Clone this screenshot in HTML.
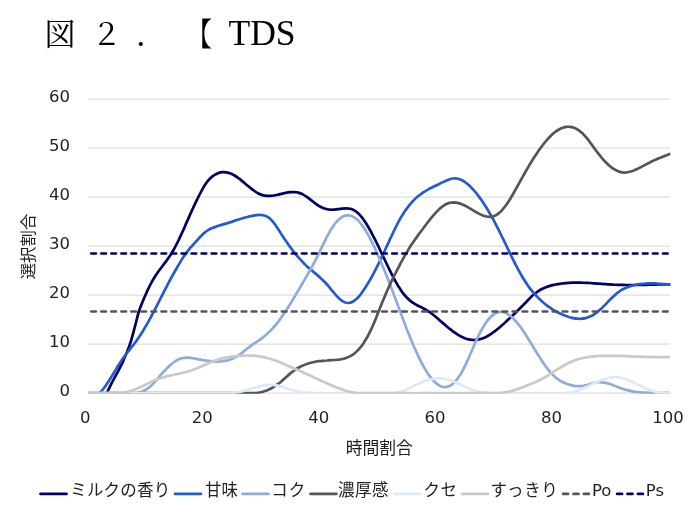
<!DOCTYPE html>
<html lang="ja">
<head>
<meta charset="utf-8">
<title>図2. TDS</title>
<style>
html,body{margin:0;padding:0;background:#fff;}
body{width:700px;height:515px;overflow:hidden;position:relative;}
svg{position:absolute;left:0;top:0;display:block;filter:blur(0.35px);}
.ttl{font-family:"Liberation Serif","Noto Serif CJK SC",serif;fill:#000;}
.cj{font-family:"Liberation Serif","Noto Serif CJK SC",serif;font-weight:400;font-size:31px;}
.lat{font-family:"Liberation Serif",serif;font-size:35.5px;}
.ax{font-family:"DejaVu Sans","Liberation Sans",sans-serif;font-size:16.5px;fill:#1f1f1f;}
.jp{font-family:"Liberation Sans","Noto Sans CJK JP",sans-serif;font-size:16.8px;fill:#1f1f1f;}
.lg{font-family:"DejaVu Sans","Noto Sans CJK JP",sans-serif;font-size:16.5px;fill:#1f1f1f;}
.grid line{stroke:#dedede;stroke-width:1.2;}
.curves path{fill:none;stroke-width:2.7;stroke-linecap:round;stroke-linejoin:round;}
.leg line{stroke-width:2.7;stroke-linecap:round;}
</style>
</head>
<body>
<svg width="700" height="515" viewBox="0 0 700 515">
<rect width="700" height="515" fill="#fff"/>
<g class="ttl">
<text class="cj" x="44.5" y="45">図</text>
<text class="cj" x="91" y="45">２</text>
<text class="cj" x="136" y="45">．</text>
<text class="cj" transform="translate(202.3 44.6) scale(0.86 1)" x="-18.9" y="0" style="font-size:30.5px">【</text>
<text class="lat" x="228.5" y="45">TDS</text>
</g>
<g class="grid">
<line x1="88" x2="670" y1="393.1" y2="393.1"/>
<line x1="88" x2="670" y1="344.1" y2="344.1"/>
<line x1="88" x2="670" y1="295.1" y2="295.1"/>
<line x1="88" x2="670" y1="246.1" y2="246.1"/>
<line x1="88" x2="670" y1="197.1" y2="197.1"/>
<line x1="88" x2="670" y1="148.1" y2="148.1"/>
<line x1="88" x2="670" y1="99.1" y2="99.1"/>
</g>
<defs><clipPath id="plot"><rect x="88" y="90" width="582.3" height="303.7"/></clipPath></defs>
<g class="curves" clip-path="url(#plot)">
<path d="M106.8 393.0C107.5 391.6 109.5 387.4 110.8 384.8C112.1 382.2 113.5 379.8 114.8 377.3C116.1 374.8 117.4 372.4 118.8 369.8C120.1 367.3 121.4 364.7 122.8 361.8C124.1 359.0 125.4 356.0 126.8 352.6C128.1 349.3 129.4 345.8 130.8 341.6C132.1 337.4 133.4 332.3 134.7 327.4C136.1 322.5 137.4 316.4 138.7 312.0C140.1 307.7 141.4 304.7 142.7 301.4C144.1 298.1 145.4 295.1 146.7 292.2C148.1 289.3 149.4 286.5 150.7 284.0C152.0 281.4 153.4 279.1 154.7 277.0C156.0 274.9 157.4 273.0 158.7 271.1C160.0 269.2 161.4 267.5 162.7 265.8C164.0 264.0 165.4 262.3 166.7 260.5C168.0 258.6 169.3 256.8 170.7 254.7C172.0 252.6 173.3 250.3 174.7 247.9C176.0 245.4 177.3 242.8 178.7 240.0C180.0 237.3 181.3 234.4 182.7 231.4C184.0 228.5 185.3 225.4 186.6 222.4C188.0 219.4 189.3 216.4 190.6 213.4C192.0 210.5 193.3 207.5 194.6 204.7C196.0 201.9 197.3 199.1 198.6 196.5C200.0 193.9 201.3 191.1 202.6 188.8C203.9 186.5 205.3 184.3 206.6 182.5C207.9 180.7 209.3 179.3 210.6 178.0C211.9 176.7 213.3 175.7 214.6 174.9C215.9 174.0 217.3 173.4 218.6 172.9C219.9 172.5 221.2 172.2 222.6 172.1C223.9 172.0 225.2 172.1 226.6 172.4C227.9 172.6 229.2 173.0 230.6 173.5C231.9 174.0 233.2 174.7 234.6 175.5C235.9 176.3 237.2 177.2 238.5 178.2C239.9 179.2 241.2 180.3 242.5 181.4C243.9 182.5 245.2 183.6 246.5 184.7C247.9 185.8 249.2 187.0 250.5 188.0C251.8 189.1 253.2 190.1 254.5 191.0C255.8 192.0 257.2 192.8 258.5 193.5C259.8 194.2 261.2 194.7 262.5 195.1C263.8 195.5 265.2 195.8 266.5 195.9C267.8 196.0 269.1 196.0 270.5 195.9C271.8 195.8 273.1 195.6 274.5 195.4C275.8 195.2 277.1 194.8 278.5 194.6C279.8 194.3 281.1 193.9 282.5 193.6C283.8 193.3 285.1 193.0 286.4 192.7C287.8 192.5 289.1 192.3 290.4 192.1C291.8 192.0 293.1 192.0 294.4 192.0C295.8 192.1 297.1 192.3 298.4 192.6C299.8 193.0 301.1 193.5 302.4 194.1C303.7 194.8 305.1 195.7 306.4 196.6C307.7 197.5 309.1 198.6 310.4 199.6C311.7 200.6 313.1 201.7 314.4 202.7C315.7 203.7 317.1 204.7 318.4 205.6C319.7 206.4 321.0 207.1 322.4 207.7C323.7 208.3 325.0 208.7 326.4 209.0C327.7 209.4 329.0 209.6 330.4 209.7C331.7 209.8 333.0 209.7 334.4 209.7C335.7 209.6 337.0 209.4 338.3 209.2C339.7 209.0 341.0 208.8 342.3 208.6C343.7 208.5 345.0 208.4 346.3 208.4C347.7 208.4 349.0 208.5 350.3 208.8C351.7 209.2 353.0 209.6 354.3 210.4C355.6 211.2 357.0 212.2 358.3 213.4C359.6 214.7 361.0 216.2 362.3 217.9C363.6 219.7 365.0 221.6 366.3 223.7C367.6 225.8 369.0 228.1 370.3 230.5C371.6 232.9 372.9 235.5 374.3 238.1C375.6 240.7 376.9 243.5 378.3 246.2C379.6 249.0 380.9 251.8 382.3 254.6C383.6 257.4 384.9 260.3 386.3 263.0C387.6 265.8 388.9 268.6 390.2 271.2C391.6 273.9 392.9 276.5 394.2 279.0C395.6 281.4 396.9 283.8 398.2 286.0C399.6 288.2 400.9 290.3 402.2 292.1C403.6 293.9 404.9 295.5 406.2 297.0C407.5 298.4 408.9 299.6 410.2 300.7C411.5 301.8 412.9 302.7 414.2 303.5C415.5 304.4 416.9 305.1 418.2 305.8C419.5 306.4 420.9 307.0 422.2 307.7C423.5 308.3 424.8 309.0 426.2 309.8C427.5 310.6 428.8 311.5 430.2 312.4C431.5 313.4 432.8 314.5 434.2 315.5C435.5 316.6 436.8 317.8 438.2 318.9C439.5 320.1 440.8 321.3 442.1 322.4C443.5 323.6 444.8 324.8 446.1 325.9C447.5 327.0 448.8 328.1 450.1 329.2C451.5 330.2 452.8 331.3 454.1 332.2C455.5 333.2 456.8 334.1 458.1 334.9C459.4 335.7 460.8 336.5 462.1 337.1C463.4 337.7 464.8 338.3 466.1 338.7C467.4 339.1 468.8 339.5 470.1 339.7C471.4 339.9 472.8 340.0 474.1 340.0C475.4 340.0 476.7 339.8 478.1 339.6C479.4 339.4 480.7 339.0 482.1 338.6C483.4 338.1 484.7 337.5 486.1 336.9C487.4 336.2 488.7 335.4 490.1 334.6C491.4 333.7 492.7 332.8 494.0 331.8C495.4 330.8 496.7 329.8 498.0 328.7C499.4 327.6 500.7 326.4 502.0 325.2C503.4 324.1 504.7 322.9 506.0 321.6C507.4 320.4 508.7 319.2 510.0 317.9C511.3 316.7 512.7 315.4 514.0 314.2C515.3 312.9 516.7 311.6 518.0 310.3C519.3 309.0 520.7 307.6 522.0 306.3C523.3 304.9 524.7 303.5 526.0 302.2C527.3 300.8 528.6 299.4 530.0 298.1C531.3 296.7 532.6 295.4 534.0 294.3C535.3 293.2 536.6 292.2 538.0 291.3C539.3 290.4 540.6 289.7 541.9 289.0C543.3 288.3 544.6 287.8 545.9 287.3C547.3 286.7 548.6 286.3 549.9 285.9C551.3 285.5 552.6 285.2 553.9 284.9C555.3 284.6 556.6 284.3 557.9 284.1C559.2 283.9 560.6 283.7 561.9 283.5C563.2 283.3 564.6 283.2 565.9 283.1C567.2 282.9 568.6 282.9 569.9 282.8C571.2 282.7 572.6 282.7 573.9 282.6C575.2 282.6 576.5 282.6 577.9 282.6C579.2 282.6 580.5 282.6 581.9 282.7C583.2 282.7 584.5 282.8 585.9 282.8C587.2 282.9 588.5 282.9 589.9 283.0C591.2 283.1 592.5 283.2 593.8 283.3C595.2 283.4 596.5 283.5 597.8 283.6C599.2 283.7 600.5 283.8 601.8 283.9C603.2 284.0 604.5 284.1 605.8 284.2C607.2 284.3 608.5 284.3 609.8 284.4C611.1 284.5 612.5 284.6 613.8 284.7C615.1 284.7 616.5 284.8 617.8 284.8C619.1 284.9 620.5 284.9 621.8 284.9C623.1 284.9 624.5 285.0 625.8 285.0C627.1 285.0 628.4 285.0 629.8 285.0C631.1 285.0 632.4 285.0 633.8 285.0C635.1 284.9 636.4 284.9 637.8 284.9C639.1 284.9 640.4 284.9 641.8 284.8C643.1 284.8 644.4 284.8 645.7 284.8C647.1 284.7 648.4 284.7 649.7 284.7C651.1 284.6 652.4 284.6 653.7 284.6C655.1 284.6 656.4 284.5 657.7 284.5C659.1 284.5 660.4 284.5 661.7 284.4C663.0 284.4 664.4 284.4 665.7 284.4C667.0 284.4 669.0 284.4 669.7 284.4" stroke="#000062"/>
<path d="M99.8 393.0C100.5 392.2 102.5 390.0 103.8 388.3C105.2 386.5 106.5 384.5 107.8 382.5C109.2 380.5 110.5 378.3 111.8 376.1C113.2 373.9 114.5 371.6 115.9 369.4C117.2 367.2 118.5 365.0 119.9 362.9C121.2 360.8 122.5 358.8 123.9 357.0C125.2 355.1 126.6 353.5 127.9 351.8C129.2 350.1 130.6 348.5 131.9 346.8C133.2 345.1 134.6 343.5 135.9 341.6C137.3 339.8 138.6 337.8 139.9 335.8C141.3 333.7 142.6 331.6 143.9 329.3C145.3 327.1 146.6 324.8 148.0 322.4C149.3 320.0 150.6 317.5 152.0 315.0C153.3 312.5 154.6 309.9 156.0 307.4C157.3 304.8 158.7 302.1 160.0 299.5C161.3 296.9 162.7 294.3 164.0 291.7C165.4 289.1 166.7 286.5 168.0 283.9C169.4 281.4 170.7 278.9 172.0 276.4C173.4 274.0 174.7 271.6 176.1 269.3C177.4 266.9 178.7 264.6 180.1 262.4C181.4 260.2 182.7 258.1 184.1 256.1C185.4 254.2 186.8 252.3 188.1 250.6C189.4 248.9 190.8 247.4 192.1 245.8C193.4 244.3 194.8 242.9 196.1 241.4C197.5 239.9 198.8 238.4 200.1 237.0C201.5 235.7 202.8 234.3 204.1 233.1C205.5 232.0 206.8 231.0 208.2 230.2C209.5 229.4 210.8 228.7 212.2 228.1C213.5 227.5 214.9 227.0 216.2 226.6C217.5 226.1 218.9 225.7 220.2 225.3C221.5 224.9 222.9 224.6 224.2 224.1C225.6 223.7 226.9 223.3 228.2 222.9C229.6 222.4 230.9 222.0 232.2 221.6C233.6 221.1 234.9 220.7 236.3 220.2C237.6 219.8 238.9 219.4 240.3 219.0C241.6 218.6 242.9 218.2 244.3 217.8C245.6 217.4 247.0 217.1 248.3 216.7C249.6 216.4 251.0 216.1 252.3 215.9C253.6 215.6 255.0 215.3 256.3 215.2C257.7 215.0 259.0 214.8 260.3 214.9C261.7 214.9 263.0 215.0 264.3 215.5C265.7 215.9 267.0 216.5 268.4 217.4C269.7 218.4 271.0 219.6 272.4 221.1C273.7 222.6 275.1 224.4 276.4 226.4C277.7 228.3 279.1 230.5 280.4 232.6C281.7 234.7 283.1 236.8 284.4 238.8C285.8 240.8 287.1 242.7 288.4 244.6C289.8 246.5 291.1 248.3 292.4 250.0C293.8 251.8 295.1 253.5 296.5 255.1C297.8 256.7 299.1 258.2 300.5 259.7C301.8 261.2 303.1 262.6 304.5 263.9C305.8 265.2 307.2 266.5 308.5 267.7C309.8 268.9 311.2 270.0 312.5 271.1C313.8 272.3 315.2 273.3 316.5 274.4C317.9 275.6 319.2 276.7 320.5 277.9C321.9 279.1 323.2 280.4 324.5 281.8C325.9 283.2 327.2 284.7 328.6 286.3C329.9 287.9 331.2 289.6 332.6 291.2C333.9 292.8 335.3 294.5 336.6 295.9C337.9 297.3 339.3 298.7 340.6 299.8C341.9 300.8 343.3 301.8 344.6 302.3C346.0 302.8 347.3 303.1 348.6 303.0C350.0 302.9 351.3 302.5 352.6 301.8C354.0 301.1 355.3 300.0 356.7 298.8C358.0 297.5 359.3 296.0 360.7 294.3C362.0 292.6 363.3 290.7 364.7 288.6C366.0 286.6 367.4 284.4 368.7 282.1C370.0 279.9 371.4 277.5 372.7 275.1C374.0 272.6 375.4 270.0 376.7 267.4C378.1 264.8 379.4 262.0 380.7 259.2C382.1 256.4 383.4 253.5 384.8 250.6C386.1 247.7 387.4 244.7 388.8 241.8C390.1 239.0 391.4 236.0 392.8 233.3C394.1 230.5 395.5 227.7 396.8 225.1C398.1 222.5 399.5 220.0 400.8 217.7C402.1 215.4 403.5 213.2 404.8 211.2C406.2 209.3 407.5 207.4 408.8 205.8C410.2 204.1 411.5 202.6 412.8 201.1C414.2 199.7 415.5 198.5 416.9 197.3C418.2 196.1 419.5 195.1 420.9 194.1C422.2 193.1 423.5 192.2 424.9 191.4C426.2 190.6 427.6 189.8 428.9 189.1C430.2 188.4 431.6 187.7 432.9 187.0C434.2 186.4 435.6 185.7 436.9 185.1C438.3 184.4 439.6 183.8 440.9 183.1C442.3 182.5 443.6 181.8 445.0 181.2C446.3 180.5 447.6 179.9 449.0 179.5C450.3 179.0 451.6 178.6 453.0 178.5C454.3 178.3 455.7 178.3 457.0 178.5C458.3 178.7 459.7 179.2 461.0 179.8C462.3 180.3 463.7 181.1 465.0 182.1C466.4 183.0 467.7 184.1 469.0 185.3C470.4 186.6 471.7 187.9 473.0 189.4C474.4 190.9 475.7 192.5 477.1 194.2C478.4 195.9 479.7 197.7 481.1 199.6C482.4 201.5 483.7 203.5 485.1 205.6C486.4 207.7 487.8 209.8 489.1 212.1C490.4 214.4 491.8 216.7 493.1 219.2C494.4 221.7 495.8 224.3 497.1 226.9C498.5 229.5 499.8 232.2 501.1 235.0C502.5 237.7 503.8 240.5 505.2 243.3C506.5 246.1 507.8 248.9 509.2 251.6C510.5 254.4 511.8 257.1 513.2 259.8C514.5 262.5 515.9 265.1 517.2 267.6C518.5 270.2 519.9 272.6 521.2 275.0C522.5 277.3 523.9 279.5 525.2 281.5C526.6 283.6 527.9 285.5 529.2 287.4C530.6 289.2 531.9 290.9 533.2 292.4C534.6 294.0 535.9 295.5 537.3 296.9C538.6 298.3 539.9 299.6 541.3 300.8C542.6 302.0 543.9 303.1 545.3 304.2C546.6 305.3 548.0 306.3 549.3 307.2C550.6 308.1 552.0 309.0 553.3 309.9C554.6 310.7 556.0 311.4 557.3 312.2C558.7 312.9 560.0 313.5 561.3 314.1C562.7 314.7 564.0 315.3 565.4 315.8C566.7 316.3 568.0 316.8 569.4 317.2C570.7 317.5 572.0 317.9 573.4 318.1C574.7 318.4 576.1 318.6 577.4 318.7C578.7 318.8 580.1 318.8 581.4 318.7C582.7 318.6 584.1 318.4 585.4 318.1C586.8 317.8 588.1 317.4 589.4 316.8C590.8 316.3 592.1 315.6 593.4 314.8C594.8 314.0 596.1 313.0 597.5 311.9C598.8 310.9 600.1 309.6 601.5 308.4C602.8 307.1 604.1 305.8 605.5 304.4C606.8 303.1 608.2 301.6 609.5 300.3C610.8 299.0 612.2 297.6 613.5 296.3C614.9 295.1 616.2 293.9 617.5 292.8C618.9 291.8 620.2 290.9 621.5 290.0C622.9 289.2 624.2 288.6 625.6 288.0C626.9 287.4 628.2 286.9 629.6 286.4C630.9 286.0 632.2 285.6 633.6 285.3C634.9 285.0 636.3 284.7 637.6 284.5C638.9 284.3 640.3 284.1 641.6 283.9C642.9 283.7 644.3 283.6 645.6 283.5C647.0 283.4 648.3 283.4 649.6 283.3C651.0 283.3 652.3 283.3 653.6 283.3C655.0 283.4 656.3 283.4 657.7 283.5C659.0 283.5 660.3 283.6 661.7 283.8C663.0 283.9 664.3 284.0 665.7 284.1C667.0 284.3 669.0 284.5 669.7 284.6" stroke="#2459d0"/>
<path d="M88.3 393.0L135.0 393.0C143.4 392.9 137.7 392.8 139.0 392.5C140.3 392.2 141.7 391.8 143.0 391.2C144.3 390.6 145.6 389.9 147.0 389.0C148.3 388.1 149.6 387.0 151.0 385.8C152.3 384.6 153.6 383.1 155.0 381.7C156.3 380.3 157.6 378.7 158.9 377.1C160.3 375.6 161.6 374.0 162.9 372.6C164.3 371.1 165.6 369.7 166.9 368.3C168.3 367.0 169.6 365.7 170.9 364.6C172.2 363.4 173.6 362.4 174.9 361.5C176.2 360.6 177.6 359.8 178.9 359.2C180.2 358.7 181.6 358.3 182.9 358.0C184.2 357.8 185.5 357.7 186.9 357.7C188.2 357.7 189.5 357.8 190.9 357.9C192.2 358.1 193.5 358.4 194.9 358.6C196.2 358.8 197.5 359.1 198.8 359.3C200.2 359.6 201.5 359.8 202.8 360.1C204.2 360.3 205.5 360.5 206.8 360.7C208.2 360.9 209.5 361.1 210.8 361.2C212.1 361.3 213.5 361.5 214.8 361.5C216.1 361.6 217.5 361.6 218.8 361.5C220.1 361.5 221.5 361.4 222.8 361.2C224.1 361.0 225.4 360.8 226.8 360.5C228.1 360.2 229.4 359.8 230.8 359.3C232.1 358.8 233.4 358.3 234.8 357.6C236.1 356.9 237.4 356.1 238.7 355.2C240.1 354.3 241.4 353.3 242.7 352.2C244.1 351.2 245.4 350.0 246.7 349.0C248.1 347.9 249.4 346.9 250.7 345.9C252.0 344.9 253.4 344.1 254.7 343.2C256.0 342.3 257.4 341.4 258.7 340.5C260.0 339.6 261.4 338.6 262.7 337.6C264.0 336.6 265.3 335.5 266.7 334.3C268.0 333.1 269.3 331.8 270.7 330.5C272.0 329.1 273.3 327.6 274.7 326.0C276.0 324.5 277.3 322.8 278.7 321.1C280.0 319.4 281.3 317.5 282.6 315.6C284.0 313.7 285.3 311.8 286.6 309.7C288.0 307.7 289.3 305.5 290.6 303.4C292.0 301.2 293.3 299.0 294.6 296.7C295.9 294.5 297.3 292.2 298.6 289.9C299.9 287.6 301.3 285.3 302.6 283.0C303.9 280.7 305.3 278.5 306.6 276.2C307.9 273.9 309.2 271.6 310.6 269.2C311.9 266.8 313.2 264.4 314.6 261.8C315.9 259.3 317.2 256.6 318.6 253.9C319.9 251.2 321.2 248.4 322.5 245.7C323.9 243.0 325.2 240.3 326.5 237.7C327.9 235.2 329.2 232.7 330.5 230.4C331.9 228.2 333.2 226.1 334.5 224.3C335.8 222.5 337.2 220.9 338.5 219.7C339.8 218.4 341.2 217.4 342.5 216.7C343.8 216.0 345.2 215.6 346.5 215.4C347.8 215.2 349.1 215.3 350.5 215.7C351.8 216.0 353.1 216.6 354.5 217.5C355.8 218.4 357.1 219.5 358.5 220.9C359.8 222.2 361.1 223.9 362.4 225.7C363.8 227.5 365.1 229.6 366.4 231.9C367.8 234.2 369.1 236.6 370.4 239.2C371.8 241.8 373.1 244.6 374.4 247.4C375.7 250.2 377.1 253.2 378.4 256.2C379.7 259.2 381.1 262.3 382.4 265.4C383.7 268.6 385.1 271.9 386.4 275.2C387.7 278.5 389.0 281.9 390.4 285.4C391.7 288.9 393.0 292.4 394.4 295.9C395.7 299.5 397.0 303.1 398.4 306.7C399.7 310.2 401.0 313.8 402.4 317.4C403.7 320.9 405.0 324.4 406.3 327.9C407.7 331.3 409.0 334.7 410.3 337.9C411.7 341.2 413.0 344.4 414.3 347.5C415.7 350.5 417.0 353.5 418.3 356.2C419.6 359.0 421.0 361.7 422.3 364.1C423.6 366.6 425.0 368.9 426.3 371.1C427.6 373.2 429.0 375.1 430.3 376.9C431.6 378.6 432.9 380.2 434.3 381.5C435.6 382.8 436.9 383.9 438.3 384.8C439.6 385.7 440.9 386.3 442.3 386.7C443.6 387.0 444.9 387.2 446.2 387.0C447.6 386.8 448.9 386.4 450.2 385.6C451.6 384.9 452.9 383.9 454.2 382.6C455.6 381.2 456.9 379.6 458.2 377.8C459.5 375.9 460.9 373.7 462.2 371.3C463.5 369.0 464.9 366.2 466.2 363.4C467.5 360.6 468.9 357.5 470.2 354.5C471.5 351.4 472.8 348.2 474.2 345.2C475.5 342.2 476.8 339.2 478.2 336.5C479.5 333.7 480.8 331.2 482.2 328.8C483.5 326.5 484.8 324.3 486.1 322.4C487.5 320.5 488.8 318.9 490.1 317.5C491.5 316.1 492.8 315.0 494.1 314.1C495.5 313.2 496.8 312.6 498.1 312.2C499.4 311.9 500.8 311.8 502.1 312.0C503.4 312.1 504.8 312.5 506.1 313.2C507.4 313.8 508.8 314.6 510.1 315.7C511.4 316.7 512.7 317.9 514.1 319.3C515.4 320.7 516.7 322.3 518.1 323.9C519.4 325.6 520.7 327.4 522.1 329.3C523.4 331.2 524.7 333.2 526.0 335.3C527.4 337.3 528.7 339.5 530.0 341.6C531.4 343.8 532.7 346.0 534.0 348.2C535.4 350.4 536.7 352.6 538.0 354.7C539.4 356.9 540.7 359.0 542.0 361.0C543.3 363.0 544.7 365.0 546.0 366.8C547.3 368.6 548.7 370.3 550.0 371.9C551.3 373.4 552.7 374.8 554.0 376.0C555.3 377.3 556.6 378.3 558.0 379.3C559.3 380.3 560.6 381.1 562.0 381.8C563.3 382.5 564.6 383.1 566.0 383.6C567.3 384.2 568.6 384.6 569.9 384.9C571.3 385.3 572.6 385.6 573.9 385.8C575.3 386.0 576.6 386.1 577.9 386.2C579.3 386.2 580.6 386.2 581.9 386.0C583.2 385.9 584.6 385.6 585.9 385.3C587.2 385.0 588.6 384.5 589.9 384.1C591.2 383.7 592.6 383.2 593.9 382.9C595.2 382.5 596.5 382.3 597.9 382.2C599.2 382.1 600.5 382.1 601.9 382.3C603.2 382.4 604.5 382.6 605.9 382.9C607.2 383.2 608.5 383.6 609.8 384.0C611.2 384.4 612.5 384.9 613.8 385.4C615.2 385.9 616.5 386.4 617.8 386.9C619.2 387.5 620.5 388.0 621.8 388.5C623.1 388.9 624.5 389.4 625.8 389.8C627.1 390.2 628.5 390.5 629.8 390.8C631.1 391.2 632.5 391.4 633.8 391.6C635.1 391.8 636.4 392.0 637.8 392.2C639.1 392.3 640.4 392.4 641.8 392.5C643.1 392.6 644.4 392.7 645.8 392.7C647.1 392.8 648.4 392.8 649.7 392.8C651.1 392.8 652.4 392.8 653.7 392.8C655.1 392.8 656.4 392.8 657.7 392.8C659.1 392.8 660.4 392.8 661.7 392.8C663.0 392.8 664.4 392.8 665.7 392.9C667.0 392.9 669.0 393.0 669.7 393.0" stroke="#8faadc"/>
<path d="M88.3 393.0L239.0 393.0L255.0 393.0C258.3 393.0 257.7 392.9 259.0 392.7C260.3 392.5 261.6 392.2 263.0 391.8C264.3 391.4 265.6 390.9 267.0 390.4C268.3 389.8 269.6 389.2 271.0 388.5C272.3 387.8 273.6 387.0 274.9 386.2C276.3 385.3 277.6 384.4 278.9 383.4C280.3 382.4 281.6 381.2 282.9 380.1C284.2 378.9 285.6 377.6 286.9 376.4C288.2 375.2 289.6 374.0 290.9 372.9C292.2 371.9 293.6 370.9 294.9 370.0C296.2 369.1 297.5 368.3 298.9 367.5C300.2 366.8 301.5 366.1 302.9 365.6C304.2 365.0 305.5 364.4 306.9 364.0C308.2 363.5 309.5 363.1 310.8 362.8C312.2 362.4 313.5 362.1 314.8 361.9C316.2 361.6 317.5 361.4 318.8 361.2C320.1 361.0 321.5 360.9 322.8 360.8C324.1 360.6 325.5 360.5 326.8 360.5C328.1 360.4 329.5 360.3 330.8 360.2C332.1 360.2 333.4 360.1 334.8 360.0C336.1 359.9 337.4 359.8 338.8 359.7C340.1 359.5 341.4 359.3 342.7 359.0C344.1 358.7 345.4 358.3 346.7 357.8C348.1 357.3 349.4 356.7 350.7 355.9C352.1 355.1 353.4 354.3 354.7 353.2C356.0 352.1 357.4 350.9 358.7 349.4C360.0 347.9 361.4 346.3 362.7 344.4C364.0 342.5 365.3 340.4 366.7 338.0C368.0 335.7 369.3 333.1 370.7 330.3C372.0 327.6 373.3 324.6 374.7 321.4C376.0 318.3 377.3 314.9 378.6 311.5C380.0 308.2 381.3 304.6 382.6 301.4C384.0 298.1 385.3 295.0 386.6 292.0C387.9 288.9 389.3 286.1 390.6 283.3C391.9 280.4 393.3 277.7 394.6 275.0C395.9 272.4 397.3 269.7 398.6 267.1C399.9 264.6 401.2 262.0 402.6 259.6C403.9 257.2 405.2 254.8 406.6 252.6C407.9 250.3 409.2 248.2 410.5 246.1C411.9 244.1 413.2 242.1 414.5 240.2C415.9 238.3 417.2 236.4 418.5 234.6C419.9 232.8 421.2 231.0 422.5 229.3C423.8 227.5 425.2 225.7 426.5 224.0C427.8 222.3 429.2 220.5 430.5 218.9C431.8 217.2 433.2 215.6 434.5 214.1C435.8 212.6 437.1 211.2 438.5 209.9C439.8 208.6 441.1 207.4 442.5 206.5C443.8 205.5 445.1 204.6 446.4 204.0C447.8 203.4 449.1 202.9 450.4 202.7C451.8 202.4 453.1 202.4 454.4 202.4C455.8 202.5 457.1 202.8 458.4 203.1C459.7 203.4 461.1 203.9 462.4 204.5C463.7 205.0 465.1 205.7 466.4 206.4C467.7 207.1 469.0 207.9 470.4 208.7C471.7 209.5 473.0 210.3 474.4 211.1C475.7 211.9 477.0 212.7 478.4 213.4C479.7 214.1 481.0 214.7 482.3 215.2C483.7 215.8 485.0 216.2 486.3 216.5C487.7 216.7 489.0 216.9 490.3 216.8C491.6 216.7 493.0 216.4 494.3 215.9C495.6 215.4 497.0 214.6 498.3 213.6C499.6 212.6 501.0 211.3 502.3 209.8C503.6 208.3 504.9 206.6 506.3 204.8C507.6 202.9 508.9 200.8 510.3 198.7C511.6 196.6 512.9 194.3 514.2 192.0C515.6 189.7 516.9 187.3 518.2 184.9C519.6 182.5 520.9 180.0 522.2 177.6C523.6 175.2 524.9 172.9 526.2 170.5C527.5 168.2 528.9 166.0 530.2 163.8C531.5 161.5 532.9 159.4 534.2 157.3C535.5 155.2 536.9 153.2 538.2 151.3C539.5 149.4 540.8 147.5 542.2 145.8C543.5 144.0 544.8 142.3 546.2 140.8C547.5 139.2 548.8 137.8 550.1 136.5C551.5 135.1 552.8 133.9 554.1 132.8C555.5 131.7 556.8 130.8 558.1 130.0C559.5 129.2 560.8 128.5 562.1 128.0C563.4 127.5 564.8 127.1 566.1 126.9C567.4 126.7 568.8 126.7 570.1 126.8C571.4 126.9 572.7 127.2 574.1 127.7C575.4 128.2 576.7 128.9 578.1 129.8C579.4 130.7 580.7 131.7 582.1 132.9C583.4 134.2 584.7 135.7 586.0 137.2C587.4 138.8 588.7 140.5 590.0 142.3C591.4 144.0 592.7 145.9 594.0 147.7C595.3 149.5 596.7 151.4 598.0 153.1C599.3 154.8 600.7 156.5 602.0 158.1C603.3 159.6 604.7 161.1 606.0 162.5C607.3 163.8 608.6 165.1 610.0 166.2C611.3 167.3 612.6 168.3 614.0 169.2C615.3 170.0 616.6 170.7 618.0 171.2C619.3 171.8 620.6 172.1 621.9 172.3C623.3 172.6 624.6 172.6 625.9 172.5C627.3 172.4 628.6 172.1 629.9 171.8C631.2 171.5 632.6 171.0 633.9 170.5C635.2 169.9 636.6 169.3 637.9 168.7C639.2 168.0 640.6 167.3 641.9 166.6C643.2 165.9 644.5 165.2 645.9 164.5C647.2 163.8 648.5 163.1 649.9 162.5C651.2 161.8 652.5 161.2 653.8 160.6C655.2 160.0 656.5 159.4 657.8 158.8C659.2 158.3 660.5 157.7 661.8 157.2C663.2 156.6 664.5 156.1 665.8 155.5C667.1 155.0 669.1 154.2 669.8 153.9" stroke="#555555"/>
<path d="M88.3 393.0L225.0 393.0L229.0 393.0C230.4 393.0 231.7 393.0 233.1 392.9C234.4 392.8 235.8 392.5 237.1 392.3C238.5 392.1 239.8 391.8 241.2 391.5C242.5 391.2 243.9 390.9 245.2 390.5C246.6 390.2 247.9 389.8 249.3 389.4C250.6 389.0 252.0 388.6 253.3 388.2C254.7 387.8 256.0 387.4 257.4 387.0C258.7 386.7 260.1 386.3 261.4 386.0C262.8 385.7 264.1 385.4 265.5 385.2C266.8 385.0 268.2 384.8 269.5 384.8C270.9 384.8 272.2 384.8 273.6 385.0C274.9 385.1 276.3 385.4 277.6 385.6C279.0 385.9 280.3 386.3 281.7 386.6C283.0 387.0 284.4 387.4 285.7 387.9C287.1 388.3 288.4 388.7 289.8 389.2C291.1 389.6 292.5 390.0 293.8 390.4C295.2 390.8 296.5 391.2 297.9 391.5C299.2 391.8 300.6 392.0 301.9 392.2C303.3 392.4 304.6 392.6 306.0 392.7C307.3 392.8 308.7 392.9 310.0 392.9C311.4 393.0 312.7 393.0 314.1 393.0L318.1 393.0L391.4 393.0C404.3 393.0 394.0 393.0 395.4 392.9C396.7 392.7 398.0 392.5 399.3 392.1C400.6 391.8 401.9 391.3 403.3 390.8C404.6 390.3 405.9 389.8 407.2 389.2C408.5 388.6 409.9 387.9 411.2 387.3C412.5 386.6 413.8 386.0 415.1 385.3C416.5 384.7 417.8 384.0 419.1 383.4C420.4 382.8 421.7 382.2 423.0 381.7C424.4 381.2 425.7 380.7 427.0 380.3C428.3 379.9 429.6 379.6 431.0 379.3C432.3 379.0 433.6 378.8 434.9 378.6C436.2 378.4 437.5 378.4 438.9 378.3C440.2 378.3 441.5 378.4 442.8 378.5C444.1 378.7 445.5 378.9 446.8 379.2C448.1 379.5 449.4 379.9 450.7 380.3C452.1 380.8 453.4 381.4 454.7 381.9C456.0 382.5 457.3 383.1 458.6 383.7C460.0 384.4 461.3 385.0 462.6 385.6C463.9 386.3 465.2 386.9 466.6 387.5C467.9 388.1 469.2 388.7 470.5 389.2C471.8 389.7 473.1 390.1 474.5 390.5C475.8 390.9 477.1 391.2 478.4 391.5C479.7 391.8 481.1 392.0 482.4 392.2C483.7 392.4 485.0 392.6 486.3 392.7C487.7 392.8 489.0 392.9 490.3 393.0C491.6 393.0 492.9 393.0 494.2 393.0L498.2 393.0L566.4 393.0C578.4 392.9 569.1 392.8 570.4 392.6C571.8 392.3 573.1 392.0 574.5 391.6C575.8 391.2 577.2 390.8 578.5 390.3C579.9 389.8 581.2 389.2 582.6 388.6C583.9 388.1 585.3 387.4 586.6 386.8C588.0 386.2 589.3 385.5 590.6 384.9C592.0 384.2 593.3 383.6 594.7 383.0C596.0 382.4 597.4 381.7 598.7 381.2C600.1 380.6 601.4 380.1 602.8 379.6C604.1 379.1 605.5 378.7 606.8 378.4C608.2 378.0 609.5 377.7 610.9 377.5C612.2 377.3 613.6 377.2 614.9 377.2C616.2 377.2 617.6 377.3 618.9 377.5C620.3 377.7 621.6 378.0 623.0 378.4C624.3 378.7 625.7 379.2 627.0 379.7C628.4 380.2 629.7 380.7 631.1 381.3C632.4 381.9 633.8 382.5 635.1 383.2C636.5 383.8 637.8 384.5 639.1 385.1C640.5 385.8 641.8 386.4 643.2 387.1C644.5 387.7 645.9 388.3 647.2 388.9C648.6 389.5 649.9 390.1 651.3 390.5C652.6 391.0 654.0 391.5 655.3 391.8C656.7 392.2 658.0 392.5 659.4 392.7C660.7 392.9 661.7 392.9 663.4 393.0L669.7 393.0" stroke="#dce9f7"/>
<path d="M88.3 393.0L117.8 393.0C123.4 393.0 120.5 393.0 121.8 392.8C123.1 392.7 124.5 392.5 125.8 392.2C127.1 391.9 128.5 391.6 129.8 391.2C131.1 390.8 132.5 390.3 133.8 389.8C135.2 389.3 136.5 388.8 137.8 388.2C139.2 387.6 140.5 387.0 141.8 386.4C143.2 385.8 144.5 385.1 145.8 384.4C147.2 383.8 148.5 383.1 149.8 382.5C151.2 381.8 152.5 381.2 153.8 380.6C155.2 380.1 156.5 379.5 157.8 379.0C159.2 378.5 160.5 378.1 161.9 377.7C163.2 377.3 164.5 376.9 165.9 376.6C167.2 376.3 168.5 375.9 169.9 375.6C171.2 375.3 172.5 375.0 173.9 374.8C175.2 374.5 176.5 374.2 177.9 373.9C179.2 373.6 180.5 373.3 181.9 373.0C183.2 372.7 184.5 372.4 185.9 372.0C187.2 371.6 188.6 371.3 189.9 370.9C191.2 370.4 192.6 370.0 193.9 369.5C195.2 369.0 196.6 368.5 197.9 368.0C199.2 367.4 200.6 366.8 201.9 366.2C203.2 365.6 204.6 365.0 205.9 364.4C207.2 363.8 208.6 363.2 209.9 362.6C211.2 362.1 212.6 361.5 213.9 361.0C215.3 360.5 216.6 360.0 217.9 359.6C219.3 359.2 220.6 358.8 221.9 358.4C223.3 358.1 224.6 357.8 225.9 357.5C227.3 357.2 228.6 357.0 229.9 356.8C231.3 356.6 232.6 356.4 233.9 356.3C235.3 356.1 236.6 356.0 237.9 355.9C239.3 355.8 240.6 355.7 241.9 355.6C243.3 355.5 244.6 355.5 246.0 355.5C247.3 355.5 248.6 355.5 250.0 355.5C251.3 355.6 252.6 355.6 254.0 355.7C255.3 355.9 256.6 356.0 258.0 356.2C259.3 356.3 260.6 356.6 262.0 356.8C263.3 357.1 264.6 357.3 266.0 357.7C267.3 358.0 268.6 358.3 270.0 358.7C271.3 359.1 272.7 359.6 274.0 360.0C275.3 360.5 276.7 361.0 278.0 361.5C279.3 362.0 280.7 362.6 282.0 363.2C283.3 363.7 284.7 364.3 286.0 364.9C287.3 365.5 288.7 366.1 290.0 366.6C291.3 367.2 292.7 367.8 294.0 368.4C295.3 369.0 296.7 369.6 298.0 370.2C299.4 370.8 300.7 371.3 302.0 371.9C303.4 372.5 304.7 373.1 306.0 373.7C307.4 374.4 308.7 375.0 310.0 375.6C311.4 376.2 312.7 376.8 314.0 377.4C315.4 378.0 316.7 378.7 318.0 379.3C319.4 379.9 320.7 380.5 322.0 381.2C323.4 381.8 324.7 382.4 326.1 383.0C327.4 383.6 328.7 384.2 330.1 384.8C331.4 385.4 332.7 385.9 334.1 386.5C335.4 387.0 336.7 387.5 338.1 388.0C339.4 388.5 340.7 389.0 342.1 389.5C343.4 389.9 344.7 390.3 346.1 390.7C347.4 391.1 348.7 391.4 350.1 391.7C351.4 392.0 352.8 392.3 354.1 392.5C355.4 392.7 356.8 392.9 358.1 393.0C359.4 393.0 360.8 393.0 362.1 393.0L366.1 393.0L495.7 393.0L499.7 393.0C501.0 392.9 502.3 392.8 503.6 392.6C504.9 392.4 506.2 392.2 507.6 391.9C508.9 391.6 510.2 391.3 511.5 391.0C512.8 390.6 514.2 390.2 515.5 389.8C516.8 389.3 518.1 388.9 519.4 388.4C520.7 387.9 522.1 387.4 523.4 386.9C524.7 386.4 526.0 385.9 527.3 385.4C528.7 384.9 530.0 384.3 531.3 383.8C532.6 383.3 533.9 382.7 535.2 382.2C536.6 381.6 537.9 381.0 539.2 380.3C540.5 379.7 541.8 379.0 543.2 378.3C544.5 377.6 545.8 376.8 547.1 376.0C548.4 375.2 549.7 374.3 551.1 373.5C552.4 372.7 553.7 371.8 555.0 370.9C556.3 370.1 557.7 369.2 559.0 368.4C560.3 367.6 561.6 366.8 562.9 366.0C564.2 365.2 565.6 364.5 566.9 363.8C568.2 363.1 569.5 362.5 570.8 361.9C572.2 361.3 573.5 360.8 574.8 360.3C576.1 359.9 577.4 359.4 578.7 359.0C580.1 358.7 581.4 358.3 582.7 358.0C584.0 357.7 585.3 357.5 586.7 357.3C588.0 357.0 589.3 356.9 590.6 356.7C591.9 356.5 593.2 356.4 594.6 356.3C595.9 356.2 597.2 356.1 598.5 356.0C599.8 356.0 601.2 355.9 602.5 355.9C603.8 355.8 605.1 355.8 606.4 355.8C607.7 355.8 609.1 355.8 610.4 355.8C611.7 355.8 613.0 355.8 614.3 355.8C615.7 355.8 617.0 355.9 618.3 355.9C619.6 355.9 620.9 356.0 622.2 356.0C623.6 356.0 624.9 356.1 626.2 356.1C627.5 356.2 628.8 356.2 630.2 356.3C631.5 356.3 632.8 356.4 634.1 356.5C635.4 356.5 636.7 356.6 638.1 356.6C639.4 356.7 640.7 356.7 642.0 356.8C643.3 356.8 644.7 356.9 646.0 356.9C647.3 357.0 648.6 357.0 649.9 357.0C651.2 357.1 652.6 357.1 653.9 357.1C655.2 357.2 656.5 357.2 657.8 357.2C659.2 357.2 660.5 357.2 661.8 357.2C663.1 357.2 664.4 357.2 665.7 357.2C667.1 357.1 669.0 357.1 669.7 357.1" stroke="#c9c9c9"/>
<path d="M91.3 311.5H669" stroke="#555555" stroke-dasharray="4.6 5.43"/>
<path d="M91.3 253.5H669" stroke="#000062" stroke-dasharray="4.6 5.43"/>
</g>
<g class="ax">
<text x="70" y="395.9" text-anchor="end">0</text>
<text x="70" y="346.9" text-anchor="end">10</text>
<text x="70" y="297.9" text-anchor="end">20</text>
<text x="70" y="248.9" text-anchor="end">30</text>
<text x="70" y="199.9" text-anchor="end">40</text>
<text x="70" y="150.9" text-anchor="end">50</text>
<text x="70" y="101.9" text-anchor="end">60</text>
<text x="85.3" y="422.6" text-anchor="middle">0</text>
<text x="202.2" y="422.6" text-anchor="middle">20</text>
<text x="318.7" y="422.6" text-anchor="middle">40</text>
<text x="435.0" y="422.6" text-anchor="middle">60</text>
<text x="551.5" y="422.6" text-anchor="middle">80</text>
<text x="668.0" y="422.6" text-anchor="middle">100</text>
</g>
<text class="jp" x="379.2" y="454.2" text-anchor="middle">時間割合</text>
<text class="jp" transform="translate(34.3 246.5) rotate(-90)" text-anchor="middle" style="font-size:16.4px">選択割合</text>
<g class="leg">
<line x1="40.5" x2="66.5" y1="493.9" y2="493.9" stroke="#000062"/>
<text class="lg" x="70.2" y="496.4" style="letter-spacing:.2px">ミルクの香り</text>
<line x1="175" x2="201" y1="493.9" y2="493.9" stroke="#2459d0"/>
<text class="lg" x="205" y="496.4">甘味</text>
<line x1="242.5" x2="268.5" y1="493.9" y2="493.9" stroke="#8faadc"/>
<text class="lg" x="271.3" y="496.4" style="letter-spacing:.9px">コク</text>
<line x1="310.5" x2="336.5" y1="493.9" y2="493.9" stroke="#555555"/>
<text class="lg" x="338" y="496.4" style="letter-spacing:.5px">濃厚感</text>
<line x1="394.5" x2="420.5" y1="493.9" y2="493.9" stroke="#dce9f7"/>
<text class="lg" x="423.6" y="496.4" style="letter-spacing:.4px">クセ</text>
<line x1="462" x2="488" y1="493.9" y2="493.9" stroke="#c9c9c9"/>
<text class="lg" x="490.6" y="496.4" style="letter-spacing:.6px">すっきり</text>
<line x1="563.1" x2="590" y1="493.9" y2="493.9" stroke="#555555" stroke-dasharray="5 5.4"/>
<text class="lg" x="592" y="496.4">Po</text>
<line x1="617.1" x2="644" y1="493.9" y2="493.9" stroke="#000062" stroke-dasharray="5 5.4"/>
<text class="lg" x="645.8" y="496.4">Ps</text>
</g>
</svg>
</body>
</html>
